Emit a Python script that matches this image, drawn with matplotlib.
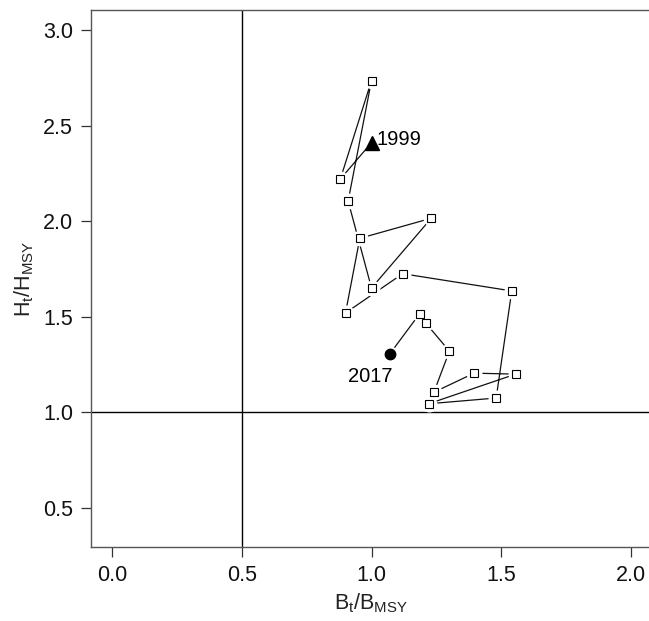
import matplotlib
matplotlib.use("Agg")
import matplotlib.pyplot as plt

plt.rcParams['font.family'] = ['Liberation Sans', 'DejaVu Sans']
plt.rcParams['mathtext.fontset'] = 'custom'
plt.rcParams['mathtext.rm'] = 'Liberation Sans'
plt.rcParams['mathtext.it'] = 'Liberation Sans'

# trajectory 1999 -> 2017 (B/Bmsy, H/Hmsy)
years = list(range(1999, 2018))
b_ratio = [1.00, 0.88, 1.00, 0.91, 1.00, 1.23, 0.955, 0.90, 1.12, 1.54,
           1.48, 1.22, 1.555, 1.395, 1.24, 1.30, 1.21, 1.185, 1.07]
h_ratio = [2.41, 2.22, 2.735, 2.105, 1.65, 2.015, 1.91, 1.52, 1.725, 1.635,
           1.075, 1.045, 1.20, 1.205, 1.105, 1.32, 1.465, 1.515, 1.305]

x_ticks = [0.0, 0.5, 1.0, 1.5, 2.0]
y_ticks = [0.5, 1.0, 1.5, 2.0, 2.5, 3.0]

fig = plt.figure(figsize=(6.49, 6.21), dpi=100)
ax = fig.add_axes([91 / 649, 1 - 547 / 621, 561 / 649, 537 / 621])

# reference lines
ax.axvline(0.5, color='black', lw=1.0, zorder=1)
ax.axhline(1.0, color='black', lw=1.0, zorder=1)

# path with gaps around the points (like R type="b")
ax.plot(b_ratio, h_ratio, color='#111111', lw=0.9, zorder=2)
ax.plot(b_ratio, h_ratio, ls='none', marker='o', ms=10.5,
        mfc='white', mec='white', zorder=3)
ax.plot(b_ratio[1:-1], h_ratio[1:-1], ls='none', marker='s', ms=5.4,
        mfc='white', mec='black', mew=0.8, zorder=4)
ax.plot(b_ratio[0], h_ratio[0], marker='^', ms=9.5, color='black', zorder=5)
ax.plot(b_ratio[-1], h_ratio[-1], marker='o', ms=7.5, color='black', zorder=5)

ax.text(b_ratio[0] + 0.018, h_ratio[0] + 0.015, str(years[0]), fontsize=14.5,
        ha='left', va='center', zorder=6)
ax.text(b_ratio[-1] - 0.075, h_ratio[-1] - 0.115, str(years[-1]), fontsize=14.5,
        ha='center', va='center', zorder=6)

ax.set_xlim(-0.08, 2.08)
ax.set_ylim(0.296, 3.104)
ax.set_xticks(x_ticks)
ax.set_xticklabels([f"{v:.1f}" for v in x_ticks])
ax.set_yticks(y_ticks)
ax.set_yticklabels([f"{v:.1f}" for v in y_ticks])
ax.tick_params(direction='out', length=7, width=0.9, colors='#333333',
               labelcolor='#111111', labelsize=15.5, pad=6)

for s in ax.spines.values():
    s.set_color('#555555')
    s.set_linewidth(1.0)

ax.set_xlabel(r'$\mathregular{B_t/B_{MSY}}$', fontsize=15.5, labelpad=4, color='#222222')
ax.set_ylabel(r'$\mathregular{H_t/H_{MSY}}$', fontsize=15.5, labelpad=5, color='#222222')

fig.savefig('out.png', dpi=100)
